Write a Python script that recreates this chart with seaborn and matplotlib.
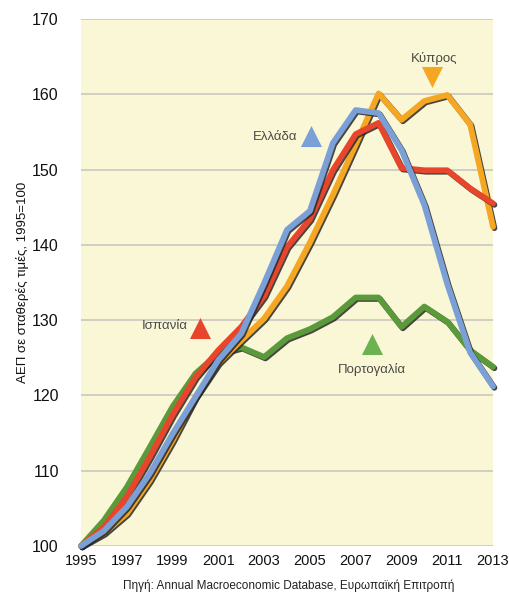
import matplotlib
matplotlib.use("Agg")
import matplotlib.pyplot as plt
import matplotlib.patheffects as pe
import numpy as np
import pandas as pd
import seaborn as sns

# Real GDP index, constant prices, 1995 = 100
years = list(range(1995, 2014))
portugal = [100, 103.4, 107.8, 113.1, 118.5, 122.9, 125.6, 126.4, 125.1, 127.6,
            128.8, 130.4, 133.0, 133.0, 129.1, 131.8, 129.8, 126.0, 123.8]
cyprus = [100, 101.7, 104.3, 108.7, 114.0, 119.8, 124.3, 127.3, 130.2, 134.5,
          140.3, 146.6, 153.3, 160.1, 156.6, 159.1, 159.9, 156.0, 142.4]
spain = [100, 102.5, 106.5, 111.8, 117.4, 122.4, 126.0, 129.1, 133.2, 139.7,
         143.4, 149.9, 154.7, 156.2, 150.2, 149.9, 149.9, 147.5, 145.5]
greece = [100, 102.0, 105.2, 109.6, 114.9, 119.8, 124.7, 128.2, 134.9, 142.0,
          144.5, 153.5, 157.9, 157.5, 152.6, 145.3, 134.8, 125.7, 121.2]

countries = ["Πορτογαλία", "Κύπρος", "Ισπανία", "Ελλάδα"]
series = [portugal, cyprus, spain, greece]
colors = ["#5b9a3a", "#f5a623", "#e8462c", "#7ba0d8"]
marker_colors = ["#6cb24e", "#f5a623", "#e8462c", "#7ba0d8"]

x_ticks = list(range(1995, 2014, 2))
y_ticks = list(range(100, 171, 10))

df = pd.DataFrame({
    "year": years * len(countries),
    "value": [v for s in series for v in s],
    "country": [c for c in countries for _ in years],
})

sns.set_theme(style="white")
plt.rcParams["font.family"] = ["Liberation Sans", "DejaVu Sans"]

fig = plt.figure(figsize=(5.10, 5.93), dpi=100)
ax = fig.add_axes([0.1588, 0.0793, 0.8079, 0.8887])
ax.set_facecolor("#faf7d6")

for y in y_ticks:
    ax.axhline(y, color="#c9c8bd", lw=1.2, zorder=1)

shadow = [pe.SimpleLineShadow(offset=(1.0, -1.0), shadow_color="#262626", alpha=0.85),
          pe.Normal()]

sns.lineplot(data=df, x="year", y="value", hue="country", hue_order=countries,
             palette=dict(zip(countries, colors)), lw=4.2, ax=ax, legend=False,
             solid_capstyle="round", solid_joinstyle="round")
for i, line in enumerate(ax.get_lines()[len(y_ticks):]):
    line.set_path_effects(shadow)
    line.set_clip_on(False)
    line.set_zorder(3 + i)

# Country labels with pointer triangles
lab_kw = dict(fontsize=9.5, color="#4a4a44")
ax.text(2010.41, 164.7, "Κύπρος", ha="center", va="center", **lab_kw)
ax.scatter([2010.33], [162.3], marker="v", s=230, color=marker_colors[1], zorder=10, lw=0)
ax.text(2004.45, 154.3, "Ελλάδα", ha="right", va="center", **lab_kw)
ax.scatter([2005.05], [154.4], marker="^", s=230, color=marker_colors[3], zorder=10, lw=0)
ax.text(1999.65, 129.2, "Ισπανία", ha="right", va="center", **lab_kw)
ax.scatter([2000.2], [129.0], marker="^", s=230, color=marker_colors[2], zorder=10, lw=0)
ax.scatter([2007.7], [126.8], marker="^", s=230, color=marker_colors[0], zorder=10, lw=0)
ax.text(2007.7, 123.5, "Πορτογαλία", ha="center", va="center", **lab_kw)

ax.set_xlim(1995, 2013)
ax.set_ylim(100, 170)
ax.set_xticks(x_ticks)
ax.set_yticks(y_ticks)
ax.tick_params(axis="x", labelsize=10.5, pad=6, length=0, colors="#111111")
ax.tick_params(axis="y", labelsize=11.5, pad=16, length=0, colors="#111111")
for s in ax.spines.values():
    s.set_visible(False)
ax.set_xlabel("")
ax.set_ylabel("ΑΕΠ σε σταθερές τιμές, 1995=100", fontsize=9.5, color="#111111", labelpad=4)
ax.yaxis.set_label_coords(-0.125, 0.5)

fig.text(0.567, 1 - 586 / 593, "Πηγή: Annual Macroeconomic Database, Ευρωπαϊκή Επιτροπή",
         ha="center", va="center", fontsize=8.5, color="#222222")

fig.savefig("out.png", dpi=100, facecolor="white")
